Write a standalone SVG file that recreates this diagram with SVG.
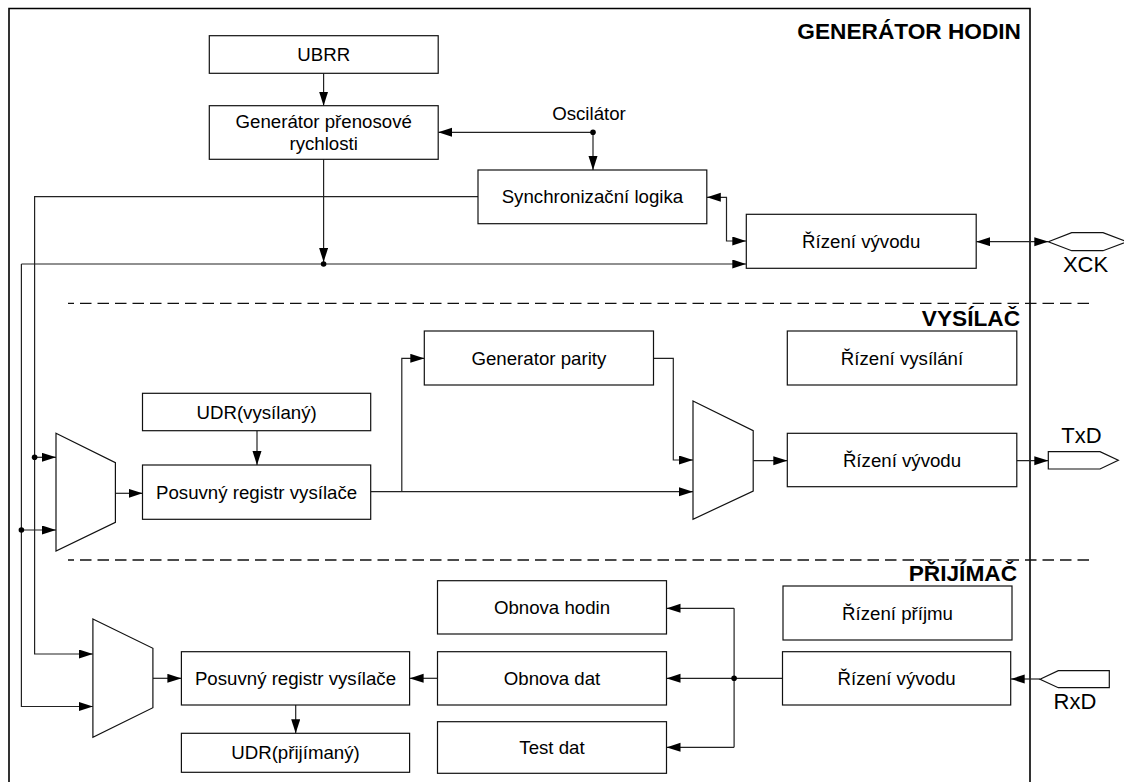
<svg xmlns="http://www.w3.org/2000/svg" width="1124" height="782" viewBox="0 0 1124 782">
<style>
  .box { fill: #fff; stroke: #111; stroke-width: 1.2; }
  .t { font-family: "Liberation Sans", Arial, sans-serif; font-size: 18.67px; fill: #000; text-anchor: middle; }
  .title { font-family: "Liberation Sans", Arial, sans-serif; font-size: 22.67px; font-weight: bold; fill: #000; text-anchor: end; }
  .pin { font-family: "Liberation Sans", Arial, sans-serif; font-size: 22px; fill: #000; text-anchor: middle; }
  .ln { fill: none; stroke: #222; stroke-width: 1.2; }
  .arr { marker-end: url(#ah); }
  .dash { fill: none; stroke: #111; stroke-width: 1.3; stroke-dasharray: 11.5 6; }
  .dot { fill: #000; }
</style>
<defs>
  <marker id="ah" markerUnits="userSpaceOnUse" markerWidth="14" markerHeight="10" refX="14" refY="4.5" orient="auto-start-reverse">
    <path d="M0,0 L14,4.5 L0,9 z" fill="#000"/>
  </marker>
</defs>
<rect x="0" y="0" width="1124" height="782" fill="#fff"/>

<g id="frame">
  <path d="M9,800 V8.5 H1030 V800" fill="none" stroke="#000" stroke-width="1.6"/>
  <path class="dash" d="M68,303.3 H1091" stroke-dashoffset="5.5"/>
  <path class="dash" d="M68,560 H1091" stroke-dashoffset="5.5"/>
  <text class="title" x="1021" y="39.3">GENERÁTOR HODIN</text>
  <text class="title" x="1020" y="326">VYSÍLAČ</text>
  <text class="title" x="1017" y="581">PŘIJÍMAČ</text>
</g>

<g id="connectors">
  <path class="ln arr" d="M323.6,73.3 V105.7"/>
  <path class="ln arr" d="M593,132.3 H438.2"/>
  <path class="ln arr" d="M593,132.3 V170"/>
  <path class="ln arr" d="M323.6,159.3 V262"/>
  <path class="ln arr" d="M21.4,264 H746.3"/>
  <path class="ln arr" d="M21.4,264 V706.5 H92.9"/>
  <path class="ln arr" d="M21.4,530 H56"/>
  <path class="ln arr" d="M478,196.7 H34.6 V654 H92.9"/>
  <path class="ln arr" d="M34.6,457.3 H56"/>
  <path class="ln arr" d="M706.8,197.3 H726.5 V241 H746.3" marker-start="url(#ah)"/>
  <path class="ln arr" d="M976.2,241.7 H1048.3" marker-start="url(#ah)"/>
  <path class="ln arr" d="M115.4,493.3 H142.5"/>
  <path class="ln arr" d="M257,430.7 V465"/>
  <path class="ln arr" d="M370.7,491.7 H693"/>
  <path class="ln arr" d="M401.8,491.7 V358.3 H424.3"/>
  <path class="ln arr" d="M653.5,358.3 H673.3 V460 H693"/>
  <path class="ln arr" d="M753.2,460.7 H787.3"/>
  <path class="ln arr" d="M1016.8,460.7 H1048.3"/>
  <path class="ln arr" d="M152.9,678.3 H181.4"/>
  <path class="ln arr" d="M295.7,705 V733.3"/>
  <path class="ln arr" d="M437.5,678.3 H409.6"/>
  <path class="ln arr" d="M782.5,678.3 H666.5"/>
  <path class="ln" d="M734.1,608.3 V747.3"/>
  <path class="ln arr" d="M734.1,608.3 H666.5"/>
  <path class="ln arr" d="M734.1,747.3 H666.5"/>
  <path class="ln arr" d="M1040,679 H1010.7"/>
  <circle class="dot" cx="593" cy="132.3" r="2.8"/>
  <circle class="dot" cx="323.6" cy="264" r="2.8"/>
  <circle class="dot" cx="21.4" cy="530" r="2.8"/>
  <circle class="dot" cx="34.6" cy="457.3" r="2.8"/>
  <circle class="dot" cx="734.1" cy="678.3" r="2.8"/>
  <text class="t" x="589" y="120">Oscilátor</text>
</g>

<g id="ubrr"><rect class="box" x="209.3" y="35.7" width="228.9" height="37.6"/><text class="t" x="323.7" y="61">UBRR</text></g>
<g id="gen-rychlosti"><rect class="box" x="209.3" y="105.7" width="228.9" height="53.6"/><text class="t" x="323.7" y="127.8">Generátor přenosové</text><text class="t" x="323.7" y="149.5">rychlosti</text></g>
<g id="sync"><rect class="box" x="478" y="170" width="228.8" height="53.7"/><text class="t" x="592.4" y="203.3">Synchronizační logika</text></g>
<g id="xck-ctrl"><rect class="box" x="746.3" y="214.3" width="229.9" height="54"/><text class="t" x="861.2" y="247.8">Řízení vývodu</text></g>
<g id="xck-pin"><polygon class="box" points="1048.3,241.7 1071.7,232.7 1103,232.7 1127,241.7 1103,250.7 1071.7,250.7"/><text class="pin" x="1085.5" y="272">XCK</text></g>

<g id="parity"><rect class="box" x="424.3" y="331" width="229.2" height="54"/><text class="t" x="538.9" y="364.5">Generator parity</text></g>
<g id="tx-control"><rect class="box" x="787.3" y="331" width="229.5" height="54"/><text class="t" x="902" y="364.5">Řízení vysílání</text></g>
<g id="udr-tx"><rect class="box" x="142.5" y="393.3" width="228.2" height="37.4"/><text class="t" x="256.6" y="418.5">UDR(vysílaný)</text></g>
<g id="shift-tx"><rect class="box" x="142.5" y="465" width="228.2" height="54.3"/><text class="t" x="256.6" y="498.7">Posuvný registr vysílače</text></g>
<g id="mux1"><polygon class="box" points="56,433.3 115.4,462.7 115.4,522.3 56,551"/></g>
<g id="mux2"><polygon class="box" points="693,401 753.2,430.7 753.2,491 693,519.3"/></g>
<g id="txd-ctrl"><rect class="box" x="787.3" y="433.3" width="229.5" height="53.4"/><text class="t" x="902" y="466.5">Řízení vývodu</text></g>
<g id="txd-pin"><polygon class="box" points="1048.3,451.7 1100,451.7 1118.3,460.3 1100,469 1048.3,469"/><text class="pin" x="1081.5" y="443.3">TxD</text></g>

<g id="mux3"><polygon class="box" points="92.9,619 152.9,648.3 152.9,707.7 92.9,737.3"/></g>
<g id="obnova-hodin"><rect class="box" x="437.5" y="580.7" width="229" height="53.3"/><text class="t" x="552" y="613.8">Obnova hodin</text></g>
<g id="rx-control"><rect class="box" x="783" y="586" width="229" height="54"/><text class="t" x="897.5" y="619.5">Řízení příjmu</text></g>
<g id="shift-rx"><rect class="box" x="181.4" y="651.7" width="228.2" height="53.3"/><text class="t" x="295.5" y="684.8">Posuvný registr vysílače</text></g>
<g id="obnova-dat"><rect class="box" x="437.5" y="651.7" width="229" height="53.3"/><text class="t" x="552" y="684.8">Obnova dat</text></g>
<g id="rxd-ctrl"><rect class="box" x="782.5" y="651.7" width="228.2" height="53.3"/><text class="t" x="896.6" y="684.8">Řízení vývodu</text></g>
<g id="udr-rx"><rect class="box" x="181.4" y="733.3" width="228.2" height="39"/><text class="t" x="295.5" y="759.3">UDR(přijímaný)</text></g>
<g id="test-dat"><rect class="box" x="437.5" y="721.7" width="229" height="51.6"/><text class="t" x="552" y="754">Test dat</text></g>
<g id="rxd-pin"><polygon class="box" points="1040,679.3 1058.3,670.7 1109.3,670.7 1109.3,687.7 1058.3,687.7"/><text class="pin" x="1075" y="708.8">RxD</text></g>
</svg>
